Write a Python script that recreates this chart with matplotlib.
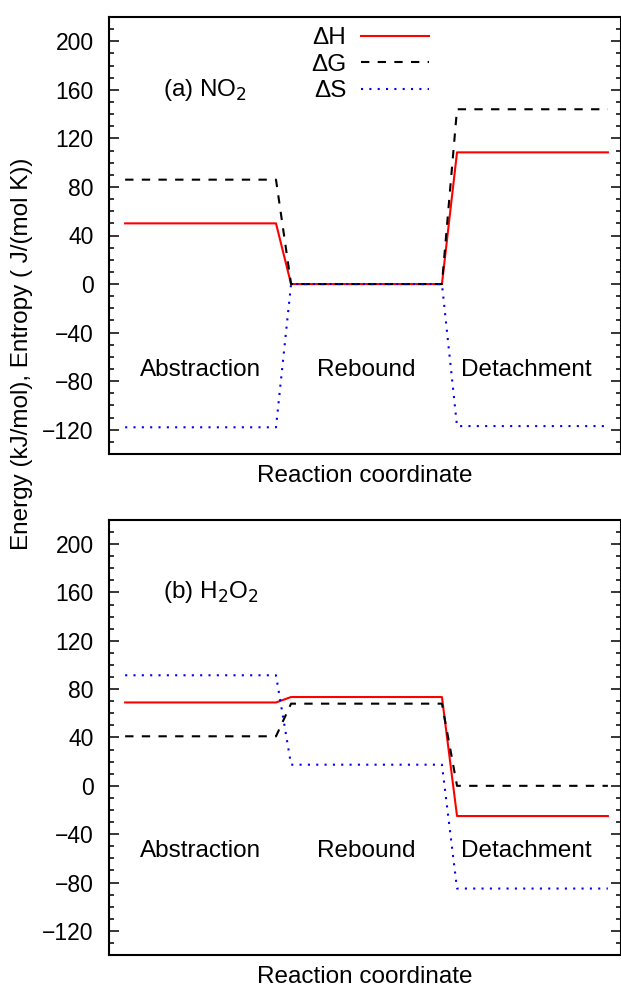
import matplotlib
matplotlib.use("Agg")
import matplotlib.pyplot as plt
from matplotlib.ticker import MultipleLocator

plt.rcParams["font.family"] = ["Liberation Sans", "DejaVu Sans"]

# reaction coordinate: start/end of each plateau
coord = [0, 10, 11, 21, 22, 32]
stages = ["Abstraction", "Rebound", "Detachment"]
stage_x = [5, 16, 26.6]

# step values for (a) NO2 and (b) H2O2: abstraction, rebound, detachment
no2_dH = [50, 0, 108.5]
no2_dG = [86, 0, 144]
no2_dS = [-118, 0, -117]

h2o2_dH = [69, 73.5, -25]
h2o2_dG = [41, 68, 0]
h2o2_dS = [91.5, 17.5, -85]

panels = [
    ("(a) NO$_2$", no2_dH, no2_dG, no2_dS, -76),
    ("(b) H$_2$O$_2$", h2o2_dH, h2o2_dG, h2o2_dS, -58.5),
]


def steps(vals):
    # each stage is a flat level between two coordinates
    return [v for v in vals for _ in (0, 1)]


fig = plt.figure(figsize=(6.21, 9.92), dpi=100)
W, H = 621, 992
boxes = [(109, 17, 621, 454), (109, 520, 621, 955)]

for i, (title, dH, dG, dS, ytxt) in enumerate(panels):
    x0, y0, x1, y1 = boxes[i]
    ax = fig.add_axes([x0 / W, 1 - y1 / H, (x1 - x0) / W, (y1 - y0) / H])
    ax.plot(coord, steps(dH), color="#ff0000", lw=1.5, label="ΔH")
    ax.plot(coord, steps(dG), color="black", lw=1.5, dashes=(4, 4), label="ΔG")
    ax.plot(coord, steps(dS), color="#0000ff", lw=1.5, dashes=(1, 3), label="ΔS")

    ax.set_xlim(-1.07, 32.87)
    ax.set_ylim(-140, 220)
    ax.set_xticks([])
    ax.yaxis.set_major_locator(MultipleLocator(40))
    ax.yaxis.set_minor_locator(MultipleLocator(10))
    ax.set_yticks(range(-120, 201, 40))
    ax.tick_params(axis="y", which="both", direction="in", right=True,
                   labelsize=16.5, width=1.1)
    ax.tick_params(axis="y", which="major", length=7.2, pad=11)
    ax.tick_params(axis="y", which="minor", length=3.6)
    for s in ax.spines.values():
        s.set_linewidth(1.5)

    ax.text(2.5, 160, title, fontsize=17.5, ha="left", va="center")
    for name, xs in zip(stages, stage_x):
        ax.text(xs, ytxt, name, fontsize=17.5, ha="center", va="baseline")
    ax.set_xlabel("Reaction coordinate", fontsize=17.5, labelpad=8)

    if i == 0:
        ax.legend(loc="upper right", bbox_to_anchor=(0.625, 0.977),
                  frameon=False, markerfirst=False, fontsize=17.5,
                  handlelength=2.8, handletextpad=0.6, labelspacing=0.19,
                  borderpad=0, borderaxespad=0)

fig.text(22 / W, 1 - 354 / H, "Energy (kJ/mol), Entropy ( J/(mol K))",
         rotation=90, fontsize=17.5, ha="center", va="center")

fig.savefig("out.png", dpi=100)
